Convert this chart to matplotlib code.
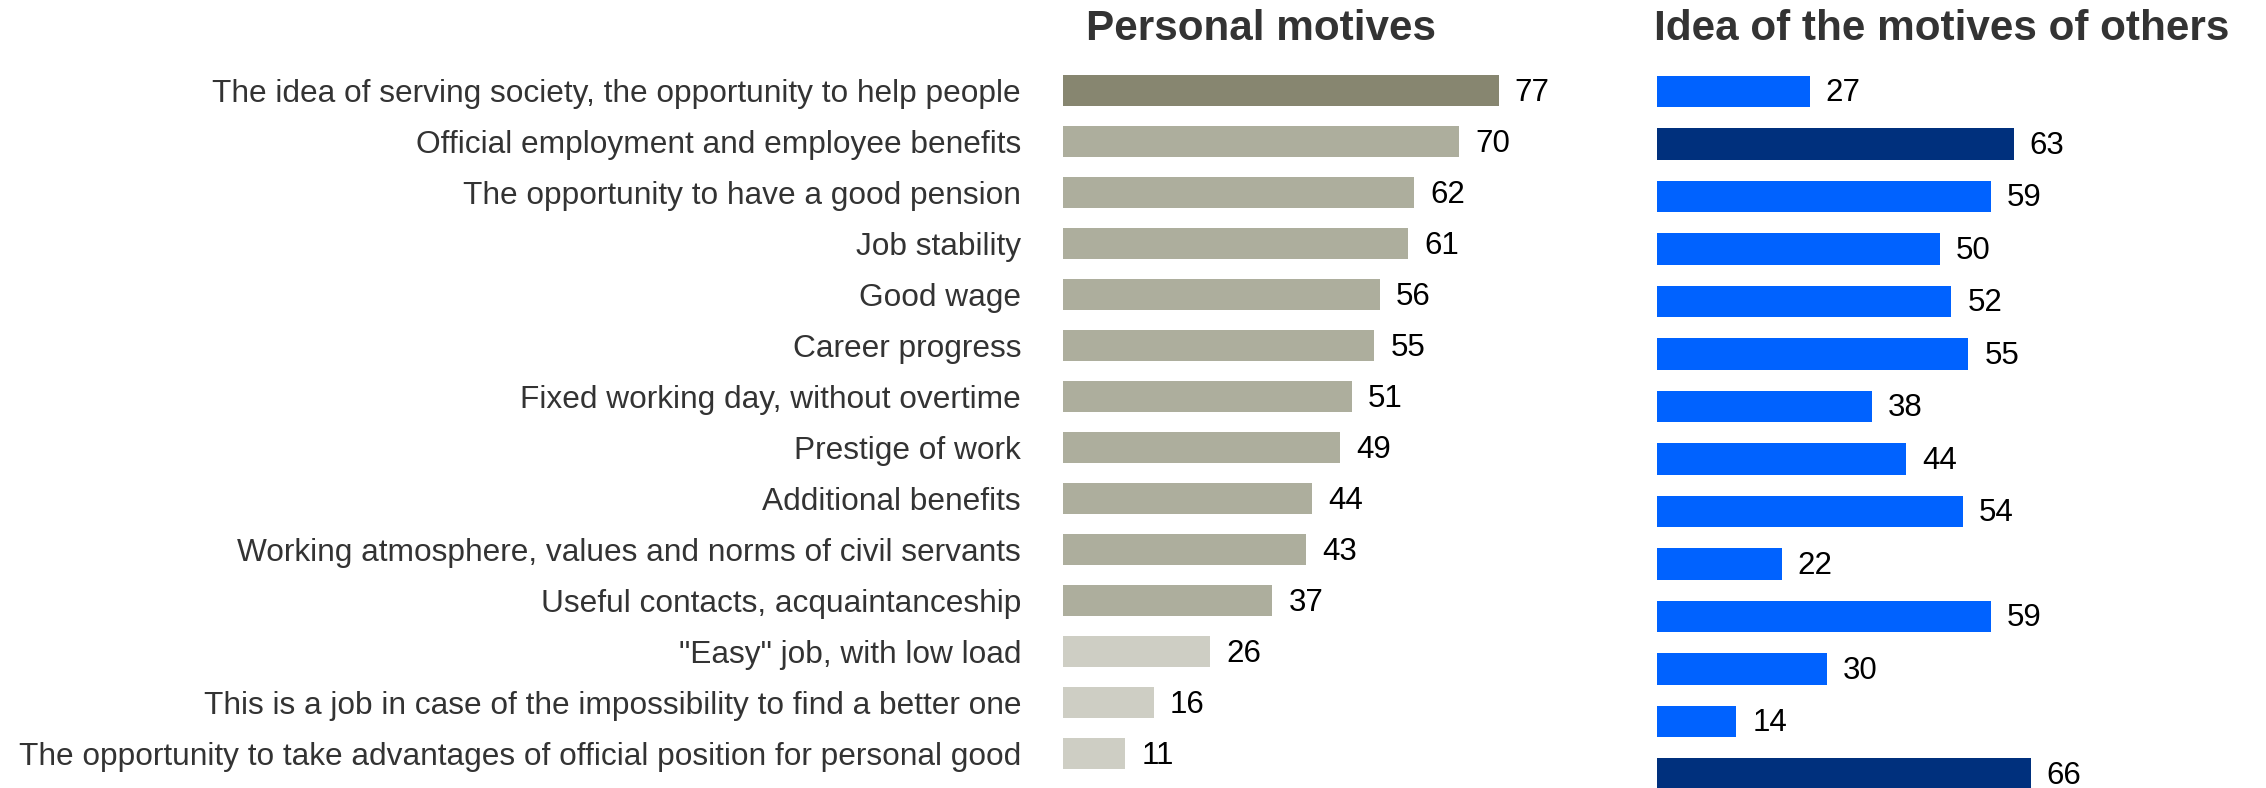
import matplotlib
matplotlib.use('Agg')
import matplotlib.pyplot as plt

# data
categories = [
    "The idea of serving society, the opportunity to help people",
    "Official employment and employee benefits",
    "The opportunity to have a good pension",
    "Job stability",
    "Good wage",
    "Career progress",
    "Fixed working day, without overtime",
    "Prestige of work",
    "Additional benefits",
    "Working atmosphere, values and norms of civil servants",
    "Useful contacts, acquaintanceship",
    "\"Easy\" job, with low load",
    "This is a job in case of the impossibility to find a better one",
    "The opportunity to take advantages of official position for personal good",
]
personal = [77, 70, 62, 61, 56, 55, 51, 49, 44, 43, 37, 26, 16, 11]
others = [27, 63, 59, 50, 52, 55, 38, 44, 54, 22, 59, 30, 14, 66]

personal_colors = ['#878670'] + ['#adae9d'] * 10 + ['#cecec4'] * 3
others_colors = ['#0062ff'] * 14
others_colors[1] = '#00307d'
others_colors[13] = '#00307d'

W, H = 2266, 788


def setup(ax, xmax):
    ax.set_xlim(0, xmax)
    ax.set_ylim(len(categories) - 0.5, -0.5)
    for s in ax.spines.values():
        s.set_visible(False)
    ax.set_xticks([])
    ax.tick_params(axis='y', length=0)


def bars(ax, values, colors):
    y = range(len(values))
    ax.barh(y, values, height=0.6, color=colors)
    for i, v in enumerate(values):
        ax.annotate(str(v), (v, i), xytext=(11.5, -1.5), textcoords='offset points',
                    va='center', ha='left', fontsize=22.5, color='black')


def plot():
    plt.rcParams['font.family'] = ['Liberation Sans', 'DejaVu Sans']
    fig = plt.figure(figsize=(W / 100, H / 100), dpi=100)

    # left panel: personal motives
    ax1 = fig.add_axes([1063 / W, (H - 779) / H, 80 * 5.66 / W, 714 / H])
    setup(ax1, 80)
    bars(ax1, personal, personal_colors)
    ax1.set_yticks(range(len(categories)))
    ax1.set_yticklabels(categories, fontsize=22.75, color='#333333')
    ax1.tick_params(axis='y', pad=30.2)

    # right panel: idea of the motives of others (rows a bit wider apart)
    ax2 = fig.add_axes([1657 / W, (H - 800) / H, 100 * 5.66 / W, 735 / H])
    setup(ax2, 100)
    ax2.set_yticks([])
    bars(ax2, others, others_colors)

    # titles
    ty = 1 - 40 / H
    fig.text(1086 / W, ty, 'Personal motives', fontsize=30.4, fontweight='bold',
             color='#333333', va='baseline', ha='left')
    fig.text(1654 / W, ty, 'Idea of the motives of others', fontsize=30.4, fontweight='bold',
             color='#333333', va='baseline', ha='left')

    fig.savefig('out.png', dpi=100)


def main():
    plot()


if __name__ == "__main__":
    main()
